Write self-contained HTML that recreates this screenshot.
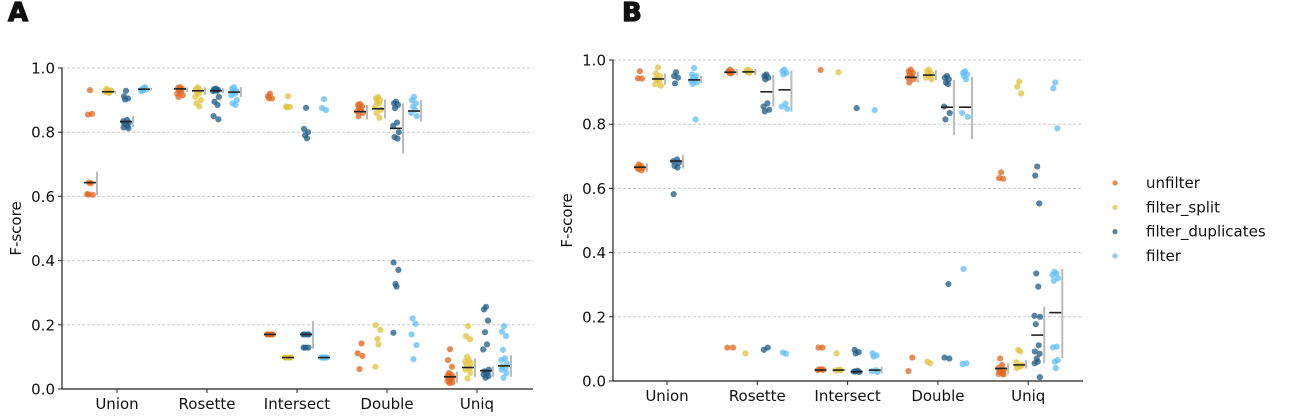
<!DOCTYPE html>
<html><head><meta charset="utf-8"><style>
html,body{margin:0;padding:0;background:#fff;}
svg{display:block;font-family:"DejaVu Sans","Liberation Sans",sans-serif;}
</style></head><body>
<svg id="chart" width="1292" height="420" viewBox="0 0 1292 420" xmlns="http://www.w3.org/2000/svg">
<text x="8" y="21" font-size="26" font-weight="900" fill="#111" stroke="#111" stroke-width="1.2">A</text>
<text x="622" y="21" font-size="26" font-weight="900" fill="#111" stroke="#111" stroke-width="1.2">B</text>
<g id="legend"></g>
</svg>
<script>
const categories = ["Union","Rosette","Intersect","Double","Uniq"];
const seriesNames = ["unfilter","filter_split","filter_duplicates","filter"];
const yTicks = [0.0,0.2,0.4,0.6,0.8,1.0];
const yTickLabels = ["0.0","0.2","0.4","0.6","0.8","1.0"];

// Panel A points [category][series]
const pointsA = [
 [[0.931,0.855,0.857,0.643,0.641,0.607,0.605,0.606],[0.93,0.928,0.925,0.924,0.922,0.926,0.93,0.935],[0.929,0.912,0.905,0.902,0.838,0.834,0.83,0.826,0.82,0.815,0.812],[0.937,0.935,0.933,0.93,0.94,0.928]],
 [[0.94,0.938,0.935,0.93,0.925,0.92,0.915,0.91],[0.94,0.935,0.93,0.925,0.92,0.91,0.9,0.89,0.88],[0.936,0.934,0.932,0.93,0.929,0.928,0.91,0.895,0.885,0.85,0.84],[0.94,0.935,0.93,0.925,0.92,0.915,0.9,0.89,0.885]],
 [[0.92,0.912,0.905,0.906,0.17,0.17,0.17,0.17,0.17,0.17],[0.912,0.88,0.879,0.877,0.098,0.098,0.098,0.098,0.098,0.098],[0.876,0.81,0.8,0.79,0.781,0.17,0.17,0.17,0.17,0.129,0.129,0.129],[0.903,0.875,0.869,0.098,0.098,0.098,0.098,0.098,0.098]],
 [[0.888,0.885,0.88,0.875,0.87,0.865,0.86,0.85,0.142,0.111,0.103,0.062],[0.91,0.905,0.9,0.895,0.89,0.88,0.87,0.86,0.845,0.199,0.184,0.156,0.139,0.069],[0.895,0.89,0.885,0.875,0.83,0.82,0.8,0.785,0.78,0.394,0.371,0.327,0.319,0.175],[0.91,0.9,0.89,0.88,0.87,0.86,0.85,0.22,0.203,0.17,0.137,0.093]],
 [[0.124,0.09,0.069,0.05,0.045,0.04,0.038,0.035,0.03,0.025,0.02,0.018],[0.196,0.165,0.155,0.1,0.09,0.085,0.08,0.075,0.064,0.06,0.05,0.033],[0.256,0.248,0.213,0.177,0.139,0.123,0.06,0.055,0.05,0.045,0.04,0.035],[0.196,0.179,0.165,0.122,0.096,0.09,0.08,0.07,0.065,0.06,0.05,0.035]]
];
const centerA = [[0.643,0.926,0.833,0.934],[0.935,0.929,0.929,0.925],[0.17,0.098,0.17,0.098],[0.864,0.873,0.812,0.866],[0.038,0.067,0.057,0.072]];
const lowA = [[0.604,0.92,0.815,0.93],[0.926,0.916,0.921,0.91],[0.17,0.098,0.125,0.098],[0.84,0.843,0.734,0.833],[0.02,0.038,0.038,0.038]];
const highA = [[0.677,0.93,0.85,0.938],[0.94,0.94,0.937,0.94],[0.17,0.098,0.212,0.098],[0.885,0.902,0.89,0.9],[0.054,0.095,0.07,0.106]];

// Panel B
const pointsB = [
 [[0.965,0.943,0.942,0.675,0.67,0.666,0.663,0.66,0.656],[0.977,0.958,0.95,0.94,0.935,0.925,0.92,0.942],[0.962,0.95,0.945,0.927,0.69,0.685,0.68,0.67,0.665,0.582],[0.975,0.955,0.95,0.945,0.94,0.935,0.93,0.925,0.815]],
 [[0.97,0.965,0.963,0.96,0.958,0.104,0.104],[0.97,0.967,0.965,0.962,0.96,0.086],[0.955,0.95,0.945,0.94,0.865,0.855,0.845,0.84,0.104,0.097],[0.97,0.965,0.96,0.955,0.864,0.855,0.848,0.089,0.085]],
 [[0.969,0.104,0.104,0.036,0.036,0.034,0.035],[0.962,0.086,0.034,0.034,0.035,0.033],[0.85,0.097,0.09,0.086,0.032,0.029,0.028,0.03],[0.844,0.086,0.08,0.076,0.034,0.03,0.028]],
 [[0.97,0.965,0.96,0.955,0.95,0.945,0.94,0.93,0.073,0.031],[0.97,0.965,0.96,0.955,0.95,0.945,0.94,0.06,0.055],[0.95,0.945,0.94,0.93,0.925,0.855,0.835,0.815,0.302,0.073,0.07],[0.965,0.96,0.955,0.95,0.94,0.835,0.823,0.349,0.055,0.053]],
 [[0.65,0.632,0.63,0.07,0.05,0.04,0.035,0.03,0.025,0.022,0.02],[0.933,0.917,0.896,0.097,0.092,0.058,0.05,0.047,0.045,0.04],[0.668,0.64,0.553,0.335,0.294,0.203,0.2,0.177,0.111,0.092,0.085,0.07,0.06,0.055,0.012],[0.93,0.912,0.787,0.34,0.335,0.33,0.32,0.312,0.107,0.105,0.065,0.06,0.04]]
];
const centerB = [[0.666,0.941,0.685,0.938],[0.962,0.963,0.901,0.907],[0.034,0.034,0.029,0.034],[0.946,0.953,0.853,0.853],[0.039,0.05,0.143,0.213]];
const lowB = [[0.652,0.922,0.662,0.927],[0.953,0.953,0.855,0.839],[0.034,0.034,0.029,0.024],[0.929,0.938,0.766,0.753],[0.022,0.039,0.055,0.071]];
const highB = [[0.678,0.958,0.706,0.951],[0.972,0.972,0.953,0.967],[0.034,0.034,0.029,0.045],[0.964,0.969,0.938,0.948],[0.055,0.065,0.232,0.349]];

const colors = ["#E0651E","#E2C33C","#1D5B86","#5FBEF6"];
const jitter = [0,-2,2,-1,1,-2.8,2.8,-1.5,1.5,-2.4,2.4,-0.5,0.5,-2.6,2.6];
const NS = "http://www.w3.org/2000/svg";
const svg = document.getElementById("chart");
function mk(tag, attrs, parent){const e=document.createElementNS(NS,tag);for(const k in attrs)e.setAttribute(k,attrs[k]);(parent||svg).appendChild(e);return e;}

function drawPanel(p){
  const g = mk("g",{});
  
  
  const y = v => p.y0 - v*(p.y0-p.y1);
  const x = i => p.x0 + i*p.dx;
  yTicks.forEach((t,i)=>{
    const gl = mk("line",{x1:p.left,x2:p.right,y1:y(t),y2:y(t),stroke:"#ccc","stroke-width":1,"stroke-dasharray":"3,2"},g);
    
    
    mk("line",{x1:p.left-4,x2:p.left,y1:y(t),y2:y(t),stroke:"#222","stroke-width":1},g);
    const tl = mk("text",{x:p.left-7,y:y(t)+5.5,"text-anchor":"end","font-size":15,fill:"#111"},g);
    tl.textContent = yTickLabels[i];
    
    
  });
  categories.forEach((c,i)=>{
    mk("line",{x1:x(i),x2:x(i),y1:p.y0,y2:p.y0+4,stroke:"#222"},g);
    const tl = mk("text",{x:x(i),y:p.y0+20,"text-anchor":"middle","font-size":15,fill:"#111"},g);
    tl.textContent = c;
    
    
  });
  const yl = mk("text",{transform:`translate(${p.ylx},${(p.y0+p.y1)/2}) rotate(-90)`,"text-anchor":"middle","font-size":15,fill:"#111"},g);
  yl.textContent = "F-score";
  
  
  const offs = [-0.3,-0.1,0.1,0.3];
  categories.forEach((c,ci)=>{
    seriesNames.forEach((s,si)=>{
      const cx = x(ci) + offs[si]*p.dx;
      p.pts[ci][si].forEach((v,k)=>{
        const pt = mk("circle",{cx:cx+jitter[k%jitter.length],cy:y(v),r:3.1,fill:colors[si],"fill-opacity":0.75},g);
        
        
      });
      if (p.hi[ci][si]-p.lo[ci][si] > 0.001){
        const eb = mk("line",{x1:cx+7,x2:cx+7,y1:y(p.hi[ci][si]),y2:y(p.lo[ci][si]),stroke:"#bbb","stroke-width":2},g);
        
        
      }
      const ml = mk("line",{x1:cx-6,x2:cx+6,y1:y(p.ctr[ci][si]),y2:y(p.ctr[ci][si]),stroke:"#222","stroke-width":1.6},g);
      
      
    });
  });
  mk("line",{x1:p.left,x2:p.left,y1:p.y1-0.5,y2:p.y0,stroke:"#222","stroke-width":1.2},g);
  mk("line",{x1:p.left,x2:p.right,y1:p.y0,y2:p.y0,stroke:"#222","stroke-width":1.2},g);
}
drawPanel({name:"panel-a",left:62,right:533,x0:117,dx:90,y0:389,y1:68,ylx:21,pts:pointsA,ctr:centerA,lo:lowA,hi:highA});
drawPanel({name:"panel-b",left:613,right:1083,x0:667,dx:90.3,y0:381,y1:60,ylx:572,pts:pointsB,ctr:centerB,lo:lowB,hi:highB});

const lg = document.getElementById("legend");
seriesNames.forEach((s,i)=>{
  const yy = 183 + i*24.3;
  const m = mk("circle",{cx:1115,cy:yy,r:2.6,fill:colors[i],"fill-opacity":0.75},lg);
  
  
  const t = mk("text",{x:1146,y:yy+5,"font-size":15,fill:"#111"},lg);
  t.textContent = s;
  
  
});
</script>
</body></html>
